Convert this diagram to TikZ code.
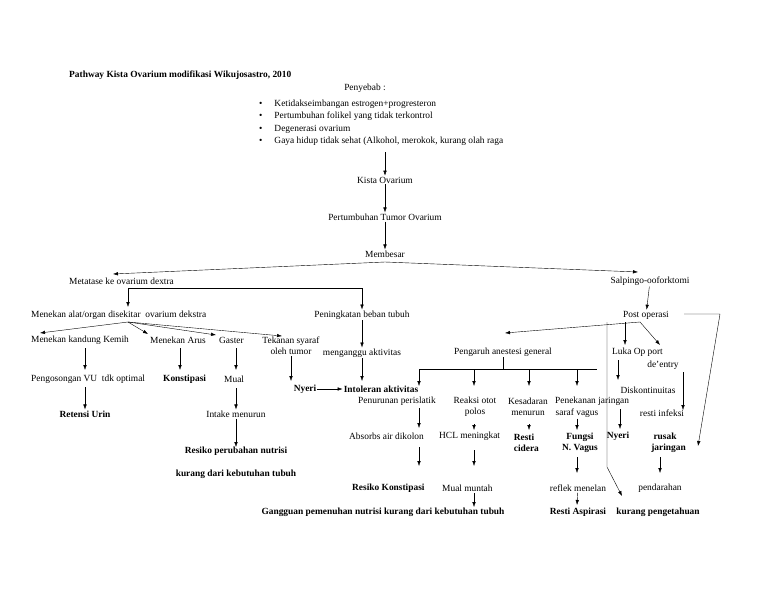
\documentclass[tikz,border=0pt]{standalone}
\usepackage{fontspec}
\setmainfont{Liberation Serif}
\usetikzlibrary{arrows.meta}
\begin{document}
\begin{tikzpicture}
[
    x=1pt, y=-1pt,
    every node/.style={inner sep=1pt,font=\fontsize{9.4}{11}\selectfont},
    bld/.style={font=\fontsize{9.4}{11}\selectfont\bfseries},
    w/.style={anchor=west},
    arr/.style={draw,->,>={Latex[length=5pt,width=3.5pt]}},
    ln/.style={draw}
  ]
  \useasboundingbox (0,0) rectangle (768,594);

  \node[bld,w] (title) at (68,75) {Pathway Kista Ovarium modifikasi Wikujosastro, 2010};
  \node (sebab) at (365,88) {Penyebab :};
  \node[w,align=left] (list) at (258,123) {%
    \textbullet\hspace{12pt}Ketidakseimbangan estrogen+progresteron\\[1.5pt]
    \textbullet\hspace{12pt}Pertumbuhan folikel yang tidak terkontrol\\[1.5pt]
    \textbullet\hspace{12pt}Degenerasi ovarium\\[1.5pt]
    \textbullet\hspace{12pt}Gaya hidup tidak sehat (Alkohol, merokok, kurang olah raga};
  \node (kista) at (385,180) {Kista Ovarium};
  \node (tumor) at (385,217) {Pertumbuhan Tumor Ovarium};
  \node (besar) at (385,254) {Membesar};
  \coordinate (list-s) at (385,152);
  \draw[arr] (list-s) -- (kista);
  \draw[arr] (kista) -- (tumor);
  \draw[arr] (tumor) -- (besar);

  % kiri
  \node[w] (meta) at (68,281) {Metatase ke ovarium dextra};
  \node (salp) at (650,281) {Salpingo-ooforktomi};
  \coordinate (split) at (385,262);
  \draw[arr] (split) -- (113,274) coordinate (meta-in);
  \draw[arr] (split) -- (638,272) coordinate (salp-in);
  \node[w] (alat) at (30,315) {Menekan alat/organ disekitar\ \ ovarium dekstra};
  \node (beban) at (362,315) {Peningkatan beban tubuh};
  \coordinate (mj1) at (128,288);
  \coordinate (mj2) at (362,288);
  \draw[ln] (mj1) -- (mj2);
  \draw[arr] (mj1) -- (128,307);
  \draw[arr] (mj2) -- (beban);

  \node[w] (kemih) at (30,340) {Menekan kandung Kemih};
  \node[w] (arus) at (149,340) {Menekan Arus};
  \node[w] (gaster) at (218,340) {Gaster};
  \node[align=center] (syaraf) at (291,346) {Tekanan syaraf\\oleh tumor};
  \node (ganggu) at (362,353) {menganggu aktivitas};
  \coordinate (aj) at (128,322);
  \draw[arr] (aj) -- (40,333);
  \draw[arr] (aj) -- (148,334);
  \draw[arr] (aj) -- (216,335);
  \draw[arr] (aj) -- (282,336);
  \draw[arr] (beban) -- (ganggu);

  \node[w] (vu) at (30,379) {Pengosongan VU\ \ tdk optimal};
  \node[bld,w] (konst) at (162,379) {Konstipasi};
  \node[w] (mual) at (223,379) {Mual};
  \node[bld] (nyeri1) at (305,389) {Nyeri};
  \node[bld] (intol) at (381,389) {Intoleran aktivitas};
  \draw[arr] (85,348) -- (85,370);
  \draw[arr] (180,348) -- (180,370);
  \draw[arr] (236,348) -- (236,370);
  \draw[arr] (syaraf) -- (291,381);
  \draw[arr] (ganggu) -- (362,381);
  \draw[arr] (nyeri1) -- (intol);

  \node[bld] (urin) at (85,414) {Retensi Urin};
  \node (intake) at (236,414) {Intake menurun};
  \node[bld,align=center] (nutri) at (236,463) {Resiko perubahan nutrisi\\[12pt]kurang dari kebutuhan tubuh};
  \draw[arr] (85,387) -- (urin);
  \draw[arr] (236,388) -- (intake);
  \draw[arr] (intake) -- (236,447);

  % kanan
  \node (post) at (646,315) {Post operasi};
  \draw[arr] (salp) -- (post);
  \coordinate (pj) at (640,322);
  \coordinate (pr1) at (684,314);
  \coordinate (pr2) at (720,314);
  \coordinate (pr3) at (698,446);
  \draw[arr] (pr1) -- (pr2) -- (pr3);
  \node (anest) at (503,352) {Pengaruh anestesi general};
  \node[w] (luka) at (611,352) {Luka Op port};
  \node (entry) at (663,365) {de'entry};
  \draw[arr] (pj) -- (505,333);
  \draw[arr] (625,322) -- (625,345);
  \draw[arr] (pj) -- (660,345);
  \coordinate (pl1) at (607,322);
  \coordinate (pl2) at (607,467);
  \coordinate (pl3) at (622,496);
  \draw[arr] (pl1) -- (pl2) -- (pl3);

  \coordinate (ga) at (503,369);
  \draw[ln] (anest) -- (ga);
  \draw[ln] (419,369) -- (597,369);
  \foreach \x in {419,474,529,577} \draw[arr] (\x,369) -- (\x,386);

  \node (disk) at (648,390) {Diskontinuitas};
  \draw[arr] (618,360) -- (618,380);
  \node[w] (peris) at (357,401) {Penurunan perislatik};
  \node[align=center] (otot) at (475,407) {Reaksi otot\\polos};
  \node[align=center] (sadar) at (528,407) {Kesadaran\\menurun};
  \node[w] (tekan) at (554,401) {Penekanan jaringan};
  \node (vagus) at (577,413) {saraf vagus};
  \node (infeksi) at (662,413) {resti infeksi};
  \draw[arr] (683,372) -- (683,410);

  \node[w] (absorb) at (348,436) {Absorbs air dikolon};
  \node[w] (hcl) at (438,436) {HCL meningkat};
  \node[bld,align=center] (cidera) at (524,443) {Resti\\\ \ cidera};
  \node[bld,align=center] (fungsi) at (580,443) {Fungsi\\N. Vagus};
  \node[bld] (nyeri2) at (618,436) {Nyeri};
  \node[bld,align=center] (rusak) at (665,443) {rusak\\\ \ \ jaringan};
  \draw[arr] (419,408) -- (419,428);
  \draw[arr] (474,424) -- (474,430);
  \draw[arr] (529,424) -- (529,430);
  \draw[arr] (vagus) -- (577,430);
  \draw[arr] (620,409) -- (620,429);

  \node[bld,w] (rkonst) at (351,488) {Resiko Konstipasi};
  \node[w] (muntah) at (441,488) {Mual muntah};
  \node (reflek) at (578,488) {reflek menelan};
  \node (darah) at (660,488) {pendarahan};
  \draw[arr] (419,447) -- (419,466);
  \draw[arr] (474,450) -- (474,466);
  \draw[arr] (577,457) -- (577,473);
  \draw[arr] (660,457) -- (660,473);

  \node[bld] (ganggu2) at (383,512) {Gangguan pemenuhan nutrisi kurang dari kebutuhan tubuh};
  \node[bld] (aspir) at (578,512) {Resti Aspirasi};
  \node[bld] (tahu) at (658,512) {kurang pengetahuan};
  \draw[arr] (474,493) -- (474,507);
  \draw[arr] (reflek) -- (577,505);
\end{tikzpicture}
\end{document}
